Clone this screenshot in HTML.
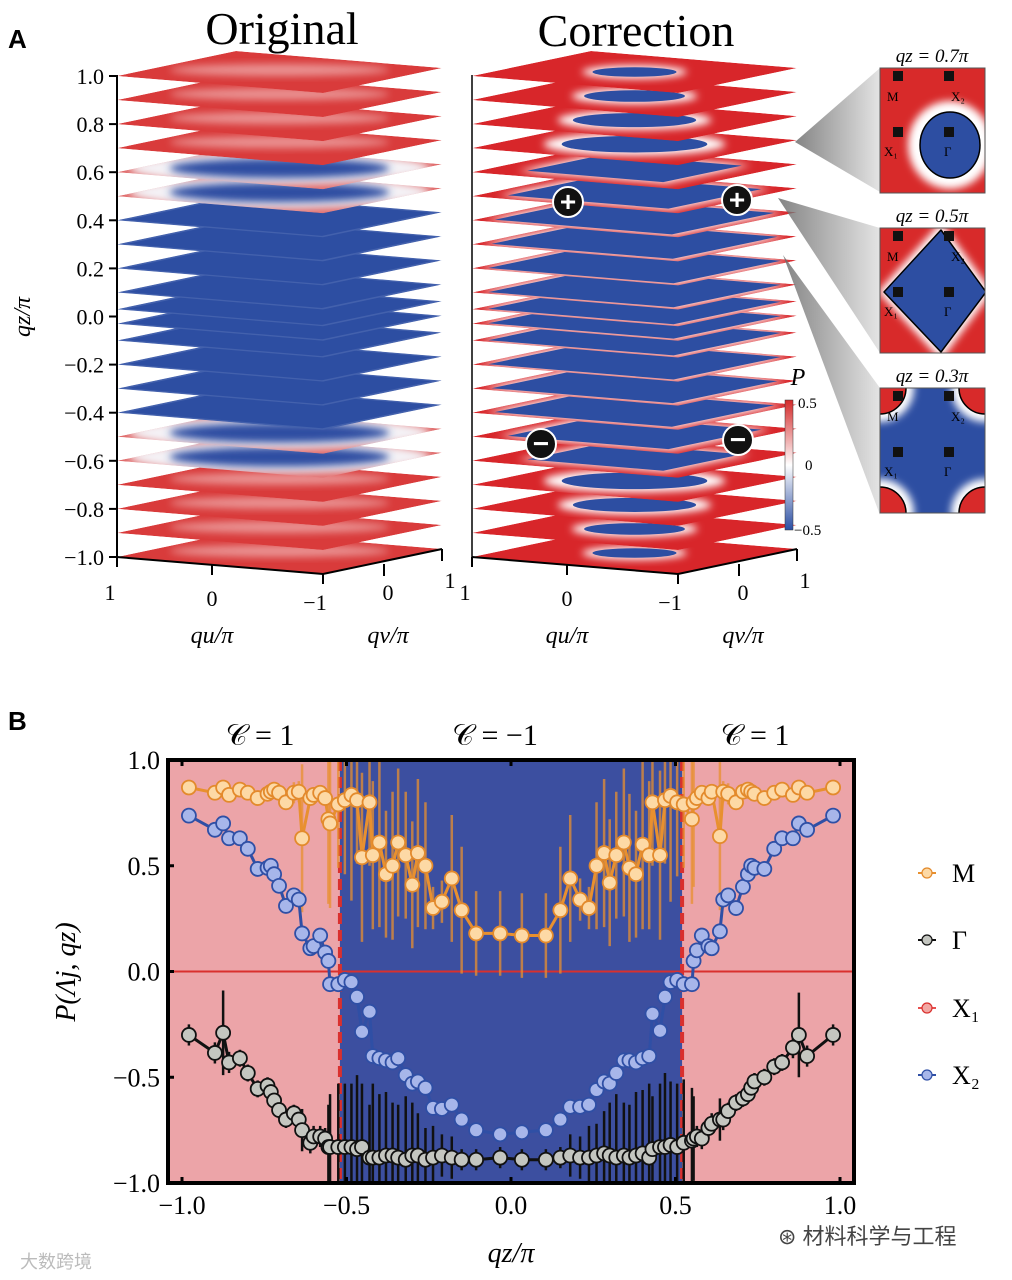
<!DOCTYPE html>
<html><head><meta charset="utf-8">
<style>
html,body{margin:0;padding:0;background:#fff;}
svg{display:block;font-family:"Liberation Serif","DejaVu Serif",serif;}
</style></head>
<body>
<svg id="fig" width="1012" height="1280" viewBox="0 0 1012 1280" xmlns="http://www.w3.org/2000/svg">
<defs>
<filter id="blur4" x="-20%" y="-50%" width="140%" height="200%"><feGaussianBlur stdDeviation="4"/></filter>
<linearGradient id="cone" x1="0" y1="0" x2="1" y2="0"><stop offset="0" stop-color="#666"/><stop offset="1" stop-color="#ddd"/></linearGradient>
<linearGradient id="cbar" x1="0" y1="0" x2="0" y2="1"><stop offset="0" stop-color="#d42a2a"/><stop offset="0.5" stop-color="#ffffff"/><stop offset="1" stop-color="#2b4ea3"/></linearGradient>
<clipPath id="plotClip"><rect x="168" y="760" width="686" height="423"/></clipPath>
</defs>
<g id="panelA">
<text x="8" y="48" font-family="Liberation Sans, sans-serif" font-weight="bold" font-size="26">A</text>
<text x="282" y="44" font-size="46" text-anchor="middle">Original</text>
<text x="636" y="46" font-size="46" text-anchor="middle">Correction</text>
<g id="origLayers"></g>
<g id="corrLayers"></g>
<g id="axesA"></g>
</g>
<g id="panelB"></g>
<text x="20" y="1268" font-family="Liberation Sans, 'Noto Sans CJK SC', sans-serif" font-size="18" fill="#bbb">大数跨境</text>
<text x="778" y="1244" font-family="Liberation Sans, 'Noto Sans CJK SC', sans-serif" font-size="22" fill="#444">⊛ 材料科学与工程</text>
</svg>
<script>
const NS="http://www.w3.org/2000/svg";
function mk(tag,attrs,parent,txt){const e=document.createElementNS(NS,tag);for(const k in attrs)e.setAttribute(k,attrs[k]);if(txt!==undefined)e.textContent=txt;parent.appendChild(e);return e;}

/* ---------- Panel A data ---------- */
const layerQz=[-1.0,-0.9,-0.8,-0.7,-0.6,-0.5,-0.4,-0.3,-0.2,-0.1,-0.03,0.03,0.1,0.2,0.3,0.4,0.5,0.6,0.7,0.8,0.9,1.0];
const zTicks=[1.0,0.8,0.6,0.4,0.2,0.0,-0.2,-0.4,-0.6,-0.8,-1.0];
const zTickLabels=["1.0","0.8","0.6","0.4","0.2","0.0","\u22120.2","\u22120.4","\u22120.6","\u22120.8","\u22121.0"];
const corrCore=[0.30,0.36,0.44,0.52,0.66,0.78,0.86,0.88,0.9,0.9,0.9];
const zY=q=>316.5-q*240.5;

function drawStack(g,dx,mode){
  layerQz.forEach((q,i)=>{
    const y=zY(q);
    const L=[117+dx,y],F=[323+dx,y+17],R=[442+dx,y-8],B=[236+dx,y-25];
    const cx=(L[0]+R[0])/2,cy=(L[1]+R[1])/2;
    const pts=[L,F,R,B].map(p=>p.join(',')).join(' ');
    const cid=mode+"clip"+i;
    const cp=mk('clipPath',{id:cid},g);mk('polygon',{points:pts},cp);
    const lg=mk('g',{'clip-path':'url(#'+cid+')'},g);
    
    
    const a=Math.abs(q);
    const sc=(s)=>[L,F,R,B].map(p=>[(cx+(p[0]-cx)*s).toFixed(1),(cy+(p[1]-cy)*s).toFixed(1)].join(',')).join(' ');
    if(mode==='orig'){
      if(a<=0.45){
        mk('polygon',{points:pts,fill:'#2d4ea2'},lg);
        mk('polygon',{points:sc(0.98),fill:'none',stroke:'#5a73b8','stroke-width':2,opacity:0.5},lg);
      }else if(a<=0.65){
        mk('polygon',{points:pts,fill:'#e06a6a'},lg);
        mk('ellipse',{cx:cx,cy:cy,rx:150,ry:16,fill:'#f4f2f6',filter:'url(#blur4)'},lg);
        mk('ellipse',{cx:cx,cy:cy,rx:110,ry:10,fill:'#2d4ea2',filter:'url(#blur4)'},lg);
      }else{
        mk('polygon',{points:pts,fill:'#d93b3b'},lg);
        mk('ellipse',{cx:cx,cy:cy-2,rx:110,ry:6,fill:'#fff',opacity:0.45,filter:'url(#blur4)'},lg);
      }
    }else{
      const k=Math.min(10,Math.round((1-a)*10));
      const s=corrCore[k];
      mk('polygon',{points:pts,fill:'#d8262a'},lg);
      if(s<0.6){
        mk('ellipse',{cx:cx,cy:cy,rx:s*175,ry:s*22,fill:'#fff',filter:'url(#blur4)'},lg);
        mk('ellipse',{cx:cx,cy:cy,rx:s*140,ry:s*16,fill:'#2d4ea2'},lg);
      }else{
        mk('polygon',{points:sc(s+0.06),fill:'#fff',filter:'url(#blur4)'},lg);
        mk('polygon',{points:sc(s),fill:'#2d4ea2'},lg);
      }
    }
  });
}
drawStack(document.getElementById('origLayers'),0,'orig');
drawStack(document.getElementById('corrLayers'),355,'corr');

(function(){
  const g=document.getElementById('axesA');
  mk('line',{x1:117,y1:75,x2:117,y2:557,stroke:'#000','stroke-width':2},g);
  zTicks.forEach((t,i)=>{
    const y=zY(t);
    mk('line',{x1:109,y1:y,x2:117,y2:y,stroke:'#000','stroke-width':2},g);
    const tx=mk('text',{x:104,y:y+8,'font-size':22,'text-anchor':'end'},g,zTickLabels[i]);
    
    
  });
  const yl=mk('text',{x:0,y:0,'font-size':24,'font-style':'italic','text-anchor':'middle',transform:'translate(30,317) rotate(-90)'},g,'qz/π');
  
  
  [0,355].forEach(dx=>{
    mk('polyline',{points:`${117+dx},557 ${323+dx},574 ${442+dx},549`,fill:'none',stroke:'#000','stroke-width':2},g);
    [[117,557],[212,565],[323,574]].forEach(p=>mk('line',{x1:p[0]+dx,y1:p[1],x2:p[0]+dx,y2:p[1]+10,stroke:'#000','stroke-width':2},g));
    [[384,564],[442,549]].forEach(p=>mk('line',{x1:p[0]+dx,y1:p[1],x2:p[0]+dx,y2:p[1]+12,stroke:'#000','stroke-width':2},g));
    mk('text',{x:110+dx,y:600,'font-size':22,'text-anchor':'middle'},g,'1');
    mk('text',{x:212+dx,y:606,'font-size':22,'text-anchor':'middle'},g,'0');
    mk('text',{x:315+dx,y:610,'font-size':22,'text-anchor':'middle'},g,'\u22121');
    mk('text',{x:388+dx,y:600,'font-size':22,'text-anchor':'middle'},g,'0');
    mk('text',{x:450+dx,y:588,'font-size':22,'text-anchor':'middle'},g,'1');
    const ql=mk('text',{x:212+dx,y:643,'font-size':24,'font-style':'italic','text-anchor':'middle'},g,'qu/π');
    
    
    const qv=mk('text',{x:388+dx,y:643,'font-size':24,'font-style':'italic','text-anchor':'middle'},g,'qv/π');
    
    
  });
  mk('line',{x1:472,y1:75,x2:472,y2:557,stroke:'#000','stroke-width':1.5},g);
  [[568,202,'+'],[737,200,'+'],[541,444,'\u2212'],[738,440,'\u2212']].forEach(m=>{
    const c=mk('circle',{cx:m[0],cy:m[1],r:15,fill:'#111',stroke:'#fff','stroke-width':2},g);
    
    
    mk('text',{x:m[0],y:m[1]+9,'font-size':28,'font-weight':'bold',fill:'#fff','text-anchor':'middle','font-family':'Liberation Sans, sans-serif'},g,m[2]);
  });
  const cb=mk('rect',{x:785,y:400,width:8,height:130,fill:'url(#cbar)',stroke:'#333','stroke-width':0.5},g);
  
  
  mk('text',{x:798,y:385,'font-size':24,'font-style':'italic','text-anchor':'middle'},g,'P');
  mk('text',{x:798,y:408,'font-size':15},g,'0.5');
  mk('text',{x:805,y:470,'font-size':15},g,'0');
  mk('text',{x:794,y:535,'font-size':15},g,'\u22120.5');
  [[795,142,880,68,880,192],[778,198,880,228,880,353],[783,255,880,388,880,515]].forEach(c=>{
    mk('polygon',{points:`${c[0]},${c[1]} ${c[2]},${c[3]} ${c[4]},${c[5]}`,fill:'url(#cone)',opacity:0.8},g);
  });
  const insets=[{y:68,t:'qz = 0.7π',kind:0},{y:228,t:'qz = 0.5π',kind:1},{y:388,t:'qz = 0.3π',kind:2}];
  insets.forEach(ins=>{
    const ig=mk('g',{},g);
    
    
    const x0=880,y0=ins.y,w=105,h=125;
    mk('text',{x:932,y:y0-6,'font-size':19,'font-style':'italic','text-anchor':'middle'},ig,ins.t);
    const cid='inclip'+ins.kind;
    const cp=mk('clipPath',{id:cid},ig);mk('rect',{x:x0,y:y0,width:w,height:h},cp);
    const cg=mk('g',{'clip-path':'url(#'+cid+')'},ig);
    if(ins.kind===0){
      mk('rect',{x:x0,y:y0,width:w,height:h,fill:'#d82a2a'},cg);
      mk('ellipse',{cx:950,cy:145,rx:42,ry:44,fill:'#fff',filter:'url(#blur4)'},cg);
      mk('ellipse',{cx:950,cy:145,rx:30,ry:33,fill:'#2d4ea2',stroke:'#000','stroke-width':1.5},cg);
    }else if(ins.kind===1){
      mk('rect',{x:x0,y:y0,width:w,height:h,fill:'#d82a2a'},cg);
      mk('polygon',{points:'941,222 992,292 941,360 878,292',fill:'#fff',filter:'url(#blur4)'},cg);
      mk('polygon',{points:'941,230 986,292 941,352 884,292',fill:'#2d4ea2',stroke:'#000','stroke-width':1.5,'stroke-linejoin':'round'},cg);
    }else{
      mk('rect',{x:x0,y:y0,width:w,height:h,fill:'#2d4ea2'},cg);
      [[x0,y0],[x0+w,y0],[x0,y0+h],[x0+w,y0+h]].forEach(p=>{
        mk('circle',{cx:p[0],cy:p[1],r:34,fill:'#fff',filter:'url(#blur4)'},cg);
        mk('circle',{cx:p[0],cy:p[1],r:26,fill:'#d82a2a',stroke:'#000','stroke-width':1.5},cg);
      });
    }
    mk('rect',{x:x0,y:y0,width:w,height:h,fill:'none',stroke:'#555','stroke-width':1},ig);
    const mx=[[898,y0+8],[949,y0+8],[898,y0+64],[949,y0+64]];
    mx.forEach(p=>mk('rect',{x:p[0]-5,y:p[1]-5,width:10,height:10,fill:'#111'},ig));
    mk('text',{x:887,y:y0+33,'font-size':13},ig,'M');
    mk('text',{x:951,y:y0+33,'font-size':13},ig,'X\u2082');
    mk('text',{x:884,y:y0+88,'font-size':13},ig,'X\u2081');
    mk('text',{x:944,y:y0+88,'font-size':13},ig,'Γ');
  });
})();

/* ---------- Panel B data ---------- */
const qzVals=[-0.979,-0.90,-0.875,-0.857,-0.824,-0.80,-0.77,-0.74,-0.73,-0.72,-0.705,-0.684,-0.66,-0.645,-0.635,-0.61,-0.60,-0.58,-0.565,-0.555,-0.55,-0.525,-0.505,-0.485,-0.468,-0.453,-0.43,-0.42,-0.40,-0.38,-0.36,-0.343,-0.32,-0.30,-0.283,-0.26,-0.237,-0.21,-0.18,-0.15,-0.106,-0.033,
0.033,0.106,0.15,0.18,0.21,0.237,0.26,0.283,0.30,0.32,0.343,0.36,0.38,0.40,0.42,0.43,0.453,0.468,0.485,0.505,0.525,0.55,0.555,0.565,0.58,0.60,0.61,0.635,0.645,0.66,0.684,0.705,0.72,0.73,0.74,0.77,0.80,0.824,0.857,0.875,0.90,0.979];
const valM=[0.87,0.845,0.87,0.835,0.86,0.845,0.82,0.84,0.85,0.86,0.845,0.80,0.845,0.85,0.63,0.82,0.835,0.845,0.82,0.72,0.70,0.79,0.81,0.835,0.81,0.54,0.80,0.55,0.61,0.46,0.50,0.61,0.55,0.41,0.56,0.50,0.30,0.33,0.44,0.29,0.18,0.18,
0.17,0.17,0.29,0.44,0.34,0.30,0.50,0.56,0.42,0.55,0.61,0.49,0.46,0.60,0.55,0.80,0.55,0.81,0.83,0.80,0.79,0.72,0.80,0.82,0.845,0.82,0.85,0.64,0.85,0.84,0.80,0.85,0.86,0.85,0.84,0.82,0.845,0.86,0.835,0.87,0.845,0.87];
const valGamma=[-0.30,-0.385,-0.29,-0.43,-0.41,-0.48,-0.555,-0.54,-0.57,-0.61,-0.655,-0.70,-0.67,-0.70,-0.75,-0.81,-0.78,-0.78,-0.79,-0.83,-0.83,-0.83,-0.83,-0.83,-0.84,-0.83,-0.88,-0.88,-0.88,-0.87,-0.87,-0.88,-0.89,-0.87,-0.87,-0.89,-0.88,-0.87,-0.88,-0.89,-0.89,-0.88,
-0.89,-0.89,-0.88,-0.87,-0.88,-0.88,-0.87,-0.86,-0.87,-0.88,-0.87,-0.88,-0.87,-0.86,-0.88,-0.84,-0.83,-0.83,-0.82,-0.83,-0.81,-0.80,-0.79,-0.78,-0.79,-0.74,-0.72,-0.70,-0.70,-0.66,-0.62,-0.60,-0.58,-0.55,-0.52,-0.50,-0.45,-0.43,-0.36,-0.30,-0.40,-0.30];
const valX2=[0.737,0.67,0.70,0.63,0.63,0.58,0.485,0.49,0.50,0.46,0.405,0.31,0.36,0.34,0.18,0.11,0.12,0.17,0.09,0.05,-0.06,-0.06,-0.04,-0.05,-0.12,-0.285,-0.19,-0.40,-0.41,-0.42,-0.43,-0.41,-0.49,-0.53,-0.52,-0.55,-0.645,-0.65,-0.63,-0.70,-0.75,-0.77,
-0.76,-0.75,-0.70,-0.64,-0.64,-0.63,-0.56,-0.52,-0.53,-0.48,-0.42,-0.42,-0.43,-0.41,-0.40,-0.20,-0.28,-0.12,-0.05,-0.04,-0.06,-0.06,0.05,0.10,0.17,0.12,0.11,0.19,0.34,0.36,0.30,0.40,0.46,0.50,0.49,0.485,0.58,0.63,0.63,0.70,0.67,0.737];
const errM=[0.03,0.03,0.03,0.03,0.03,0.03,0.03,0.03,0.03,0.03,0.03,0.03,0.05,0.05,0.35,0.03,0.03,0.03,0.03,0.4,0.4,0.3,0.35,0.5,0.3,0.4,0.3,0.35,0.4,0.3,0.35,0.35,0.3,0.3,0.35,0.3,0.1,0.1,0.3,0.3,0.2,0.2,
0.2,0.2,0.3,0.3,0.1,0.1,0.3,0.35,0.3,0.3,0.35,0.35,0.3,0.4,0.35,0.3,0.4,0.3,0.5,0.35,0.3,0.4,0.4,0.03,0.03,0.03,0.03,0.35,0.05,0.05,0.03,0.03,0.03,0.03,0.03,0.03,0.03,0.03,0.03,0.03,0.03,0.03];
const errGamma=[0.05,0.05,0.2,0.05,0.04,0.04,0.04,0.04,0.04,0.04,0.04,0.04,0.04,0.05,0.1,0.05,0.05,0.05,0.05,0.2,0.25,0.3,0.3,0.3,0.35,0.3,0.25,0.35,0.3,0.3,0.25,0.25,0.3,0.25,0.2,0.15,0.15,0.1,0.1,0.05,0.05,0.05,
0.05,0.05,0.05,0.1,0.1,0.15,0.15,0.2,0.25,0.3,0.25,0.25,0.3,0.3,0.35,0.25,0.3,0.35,0.3,0.3,0.3,0.25,0.2,0.05,0.05,0.05,0.05,0.1,0.05,0.04,0.04,0.04,0.04,0.04,0.04,0.04,0.04,0.04,0.05,0.2,0.05,0.05];
const xTicks=[-1.0,-0.5,0.0,0.5,1.0];
const xTickLabels=["\u22121.0","\u22120.5","0.0","0.5","1.0"];
const yTicks=[1.0,0.5,0.0,-0.5,-1.0];
const yTickLabels=["1.0","0.5","0.0","\u22120.5","\u22121.0"];
const transitionQz=[-0.52,0.52];
const chernLabels=["𝒞 = 1","𝒞 = −1","𝒞 = 1"];
const legendNames=["M","Γ","X\u2081","X\u2082"];

(function(){
  const g=document.getElementById('panelB');
  const X=q=>511+q*329;
  const Y=v=>971.5-v*211.5;
  const L=168,R=854,T=760,B=1183;
  mk('text',{x:8,y:730,'font-family':'Liberation Sans, sans-serif','font-weight':'bold','font-size':26},g,'B');
  const bg=mk('rect',{x:L,y:T,width:R-L,height:B-T,fill:'#eca4a8'},g);
  
  
  const br=mk('rect',{x:X(transitionQz[0]),y:T,width:X(transitionQz[1])-X(transitionQz[0]),height:B-T,fill:'#3c4fa0'},g);
  
  
  mk('line',{x1:L,y1:Y(0),x2:R,y2:Y(0),stroke:'#d9302e','stroke-width':2},g);
  transitionQz.forEach(q=>{
    const d=mk('line',{x1:X(q),y1:T,x2:X(q),y2:B,stroke:'#d9302e','stroke-width':4,'stroke-dasharray':'11,6'},g);
    
    
  });
  const cx=[260,495,755];
  chernLabels.forEach((t,i)=>{
    const e=mk('text',{x:cx[i],y:745,'font-size':30,'text-anchor':'middle'},g,t);
    
    
  });
  const eg=mk('g',{'clip-path':'url(#plotClip)'},g);
  
  
  qzVals.forEach((q,i)=>{
    mk('line',{x1:X(q),y1:Y(valM[i]-errM[i]),x2:X(q),y2:Y(valM[i]+errM[i]),stroke:'#e8902f','stroke-width':2.5,opacity:0.75},eg);
    mk('line',{x1:X(q),y1:Y(valGamma[i]-errGamma[i]),x2:X(q),y2:Y(valGamma[i]+errGamma[i]),stroke:'#111','stroke-width':2.5},eg);
  });
  const series=[
    {name:'M',vals:valM,line:'#e8902f',fill:'#fdd9a5',stroke:'#e38a2c'},
    {name:'X2',vals:valX2,line:'#2f4fa5',fill:'#a7b6ea',stroke:'#2f4fa5'},
    {name:'Gamma',vals:valGamma,line:'#111',fill:'#c4c6c0',stroke:'#111'}
  ];
  series.forEach(s=>{
    const sg=mk('g',{},g);
    
    
    mk('polyline',{points:qzVals.map((q,i)=>X(q).toFixed(1)+','+Y(s.vals[i]).toFixed(1)).join(' '),fill:'none',stroke:s.line,'stroke-width':3},sg);
    qzVals.forEach((q,i)=>{
      const c=mk('circle',{cx:X(q),cy:Y(s.vals[i]),r:7,fill:s.fill,stroke:s.stroke,'stroke-width':1.8},sg);
      
      
    });
  });
  const fr=mk('rect',{x:L,y:T,width:R-L,height:B-T,fill:'none',stroke:'#000','stroke-width':4},g);
  
  
  xTicks.forEach((t,i)=>{
    mk('line',{x1:X(t),y1:B-6,x2:X(t),y2:B,stroke:'#000','stroke-width':3},g);
    mk('line',{x1:X(t),y1:T,x2:X(t),y2:T+6,stroke:'#000','stroke-width':3},g);
    const e=mk('text',{x:X(t),y:1214,'font-size':26,'text-anchor':'middle'},g,xTickLabels[i]);
    
    
  });
  yTicks.forEach((t,i)=>{
    mk('line',{x1:L,y1:Y(t),x2:L+6,y2:Y(t),stroke:'#000','stroke-width':3},g);
    const e=mk('text',{x:160,y:Y(t)+9,'font-size':26,'text-anchor':'end'},g,yTickLabels[i]);
    
    
  });
  const xt=mk('text',{x:511,y:1262,'font-size':28,'font-style':'italic','text-anchor':'middle'},g,'qz/π');
  
  
  const yt=mk('text',{x:0,y:0,'font-size':28,'font-style':'italic','text-anchor':'middle',transform:'translate(75,972) rotate(-90)'},g,'P(Λj, qz)');
  
  
  const lc=[['#e8902f','#fdd9a5','#e38a2c'],['#111','#c4c6c0','#111'],['#e8504f','#f2a7a3','#d9302e'],['#2f4fa5','#a7b6ea','#2f4fa5']];
  const ly=[873,940,1008,1075];
  legendNames.forEach((n,i)=>{
    const lg=mk('g',{},g);
    
    
    mk('line',{x1:918,y1:ly[i],x2:936,y2:ly[i],stroke:lc[i][0],'stroke-width':2},lg);
    mk('circle',{cx:927,cy:ly[i],r:5,fill:lc[i][1],stroke:lc[i][2],'stroke-width':1.2},lg);
    mk('text',{x:952,y:ly[i]+9,'font-size':26},lg,n);
  });
})();
</script>
</body></html>
